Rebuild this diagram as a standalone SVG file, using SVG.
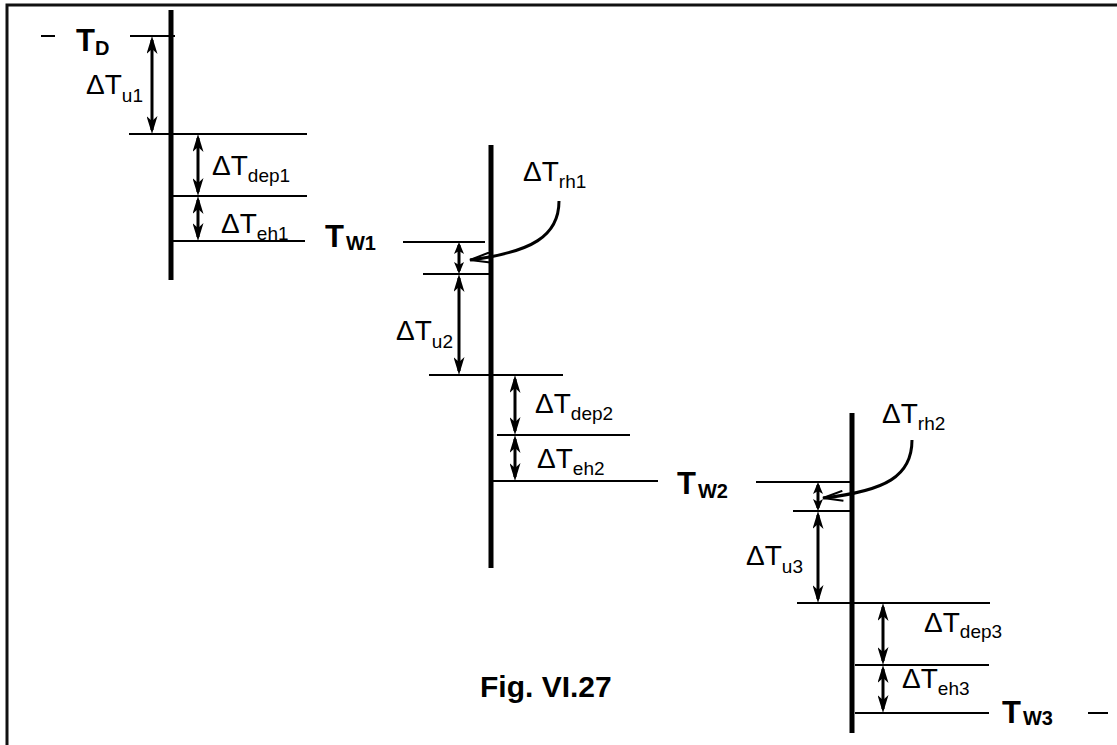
<svg xmlns="http://www.w3.org/2000/svg" width="1117" height="745" viewBox="0 0 1117 745">
<style>
.frame{stroke:#111;stroke-width:3;fill:none}
.bar{stroke:#000;stroke-width:5;fill:none}
.lvl{stroke:#000;stroke-width:2;fill:none}
.dim{stroke:#000;stroke-width:3;fill:none;marker-start:url(#ah);marker-end:url(#ah)}
.dims{stroke:#000;stroke-width:3;fill:none;marker-start:url(#ahs);marker-end:url(#ahs)}
.crv{stroke:#000;stroke-width:3;fill:none;marker-end:url(#open)}
.lbl{font-family:"Liberation Sans",Arial,sans-serif;font-size:28px;fill:#000}
.sub{font-size:19px}
.tb{font-family:"Liberation Sans",Arial,sans-serif;font-size:31px;font-weight:bold;fill:#000}
.tbs{font-size:20px}
.fig{font-family:"Liberation Sans",Arial,sans-serif;font-size:30px;font-weight:bold;fill:#000}
</style>
<defs>
<marker id="ah" viewBox="0 0 18 11" refX="14" refY="5.5" markerWidth="18" markerHeight="11" markerUnits="userSpaceOnUse" orient="auto-start-reverse">
<path d="M0,0 L18,5.5 L0,11 L5,5.5 Z" fill="#000"/>
</marker>
<marker id="ahs" viewBox="0 0 12 10" refX="9" refY="5" markerWidth="12" markerHeight="10" markerUnits="userSpaceOnUse" orient="auto-start-reverse">
<path d="M0,0 L12,5 L0,10 L3,5 Z" fill="#000"/>
</marker>
<marker id="open" viewBox="0 0 22 12" refX="21" refY="6" markerWidth="22" markerHeight="12" markerUnits="userSpaceOnUse" orient="auto">
<path d="M1,1 L21,6 L1,11" fill="none" stroke="#000" stroke-width="2"/>
</marker>
</defs>
<rect width="1117" height="745" fill="#fff"/>
<g id="frame">
<path class="frame" d="M7,745 L7,5 L1117,5"/>
</g>
<g id="stage1">
<line class="bar" x1="171" y1="10" x2="171" y2="280"/>
<line class="lvl" x1="41" y1="36" x2="55" y2="36"/>
<line class="lvl" x1="130" y1="36" x2="175" y2="36"/>
<line class="lvl" x1="129" y1="134" x2="307" y2="134"/>
<line class="lvl" x1="173" y1="196" x2="307" y2="196"/>
<line class="lvl" x1="173" y1="241" x2="305" y2="241"/>
<text class="tb" x="76" y="51">T<tspan class="tbs" dy="4">D</tspan></text>
<text class="lbl" x="86" y="94">ΔT<tspan class="sub" dy="8">u1</tspan></text>
<text class="lbl" x="212" y="175">ΔT<tspan class="sub" dy="7">dep1</tspan></text>
<text class="lbl" x="221" y="233">ΔT<tspan class="sub" dy="7">eh1</tspan></text>
</g>
<g id="stage2">
<line class="bar" x1="491" y1="145" x2="491" y2="568"/>
<line class="lvl" x1="403" y1="242" x2="485" y2="242"/>
<line class="lvl" x1="423" y1="274" x2="491" y2="274"/>
<line class="lvl" x1="429" y1="375" x2="563" y2="375"/>
<line class="lvl" x1="497" y1="435" x2="630" y2="435"/>
<line class="lvl" x1="491" y1="481" x2="658" y2="481"/>
<text class="tb" x="325" y="247">T<tspan class="tbs" dx="2" dy="3">W1</tspan></text>
<text class="lbl" x="523" y="181">ΔT<tspan class="sub" dy="7">rh1</tspan></text>
<text class="lbl" x="396" y="340">ΔT<tspan class="sub" dy="8">u2</tspan></text>
<text class="lbl" x="535" y="413">ΔT<tspan class="sub" dy="7">dep2</tspan></text>
<text class="lbl" x="537" y="468">ΔT<tspan class="sub" dy="7">eh2</tspan></text>
</g>
<g id="stage3">
<line class="bar" x1="852" y1="413" x2="852" y2="733"/>
<line class="lvl" x1="756" y1="482" x2="850" y2="482"/>
<line class="lvl" x1="793" y1="511" x2="850" y2="511"/>
<line class="lvl" x1="797" y1="603" x2="990" y2="603"/>
<line class="lvl" x1="855" y1="665" x2="989" y2="665"/>
<line class="lvl" x1="855" y1="713" x2="989" y2="713"/>
<line class="lvl" x1="1088" y1="713" x2="1108" y2="713"/>
<text class="tb" x="677" y="494">T<tspan class="tbs" dx="2" dy="4">W2</tspan></text>
<text class="tb" x="1002" y="723">T<tspan class="tbs" dx="2" dy="2">W3</tspan></text>
<text class="lbl" x="882" y="423">ΔT<tspan class="sub" dy="7">rh2</tspan></text>
<text class="lbl" x="746" y="565">ΔT<tspan class="sub" dy="8">u3</tspan></text>
<text class="lbl" x="924" y="632">ΔT<tspan class="sub" dy="6">dep3</tspan></text>
<text class="lbl" x="902" y="688">ΔT<tspan class="sub" dy="7">eh3</tspan></text>
</g>
<g id="connectors">
<line class="dim" x1="152" y1="40" x2="152" y2="130"/>
<line class="dim" x1="198" y1="138" x2="198" y2="192"/>
<line class="dim" x1="198" y1="200" x2="198" y2="237"/>
<line class="dims" x1="459" y1="245" x2="459" y2="271"/>
<line class="dim" x1="459" y1="278" x2="459" y2="371"/>
<line class="dim" x1="515" y1="379" x2="515" y2="431"/>
<line class="dim" x1="515" y1="439" x2="515" y2="477"/>
<line class="dims" x1="818" y1="485" x2="818" y2="508"/>
<line class="dim" x1="818" y1="515" x2="818" y2="599"/>
<line class="dim" x1="883" y1="607" x2="883" y2="661"/>
<line class="dim" x1="883" y1="669" x2="883" y2="709"/>
<path class="crv" d="M559,201 C559,236 532,252 470,260"/>
<path class="crv" d="M912,440 C912,476 886,491 823,498"/>
</g>
<text class="fig" x="480" y="697">Fig. VI.27</text>
</svg>
